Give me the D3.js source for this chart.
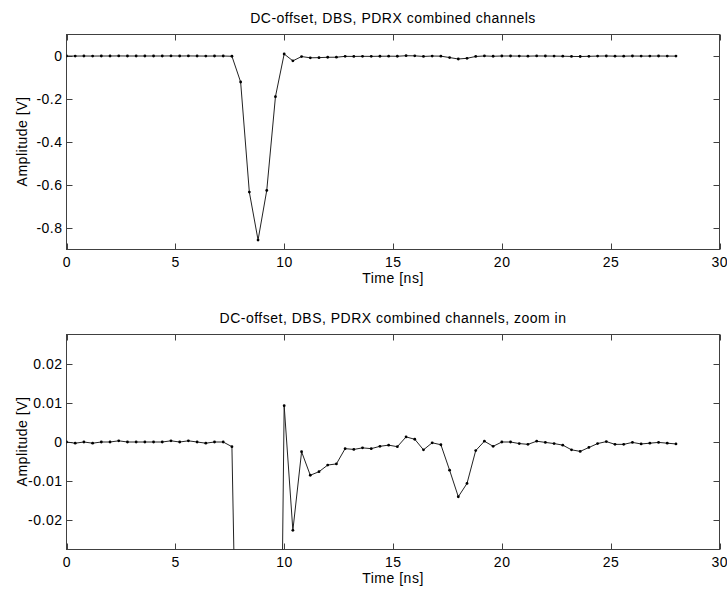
<!DOCTYPE html>
<html>
<head>
<meta charset="utf-8">
<script src="https://cdn.jsdelivr.net/npm/d3@7"></script>
<style>
  body { margin: 0; background: #fff; }
  svg text { font-family: "Liberation Sans", Arial, sans-serif; fill: #000; letter-spacing: 0.5px; }
</style>
</head>
<body>
<div id="chart"></div>
<script>
// time samples, 0.4 ns apart
const times = d3.range(71).map(i => +(i * 0.4).toFixed(1));

// amplitude [V] per sample
const amplitude = [
  0, -0.0003, 0, -0.0003, 0, 0, 0.0003, 0, 0, 0,
  0, 0, 0.0003, 0, 0.0003, 0, -0.0003, 0, 0, -0.0012,
  -0.121, -0.633, -0.856, -0.625, -0.189, 0.0093, -0.0226, -0.0025, -0.0085, -0.0076,
  -0.0059, -0.0056, -0.0017, -0.0019, -0.0015, -0.0017, -0.0011, -0.0008, -0.0012, 0.0013,
  0.0007, -0.002, -0.0002, -0.0007, -0.0072, -0.014, -0.0106, -0.0022, 0.0002, -0.0011,
  0, 0, -0.0004, -0.0006, 0.0002, -0.0001, -0.0004, -0.0008, -0.002, -0.0024,
  -0.0014, -0.0004, 0.0001, -0.0006, -0.0006, -0.0001, -0.0005, -0.0003, -0.0001, -0.0003,
  -0.0005
];

const xTicks = [0, 5, 10, 15, 20, 25, 30];
const topYTicks = [0, -0.2, -0.4, -0.6, -0.8];
const zoomYTicks = [0.02, 0.01, 0, -0.01, -0.02];

const data = times.map((t, i) => ({ t, v: amplitude[i] }));

const W = 727, H = 593;
const svg = d3.select('#chart').append('svg').attr('width', W).attr('height', H);

const panels = [
  { title: 'DC-offset, DBS, PDRX combined channels', top: 34, bottom: 249, domain: [-0.9, 0.1], ticks: topYTicks, id: 'c1' },
  { title: 'DC-offset, DBS, PDRX combined channels, zoom in', top: 334, bottom: 549, domain: [-0.0275, 0.0275], ticks: zoomYTicks, id: 'c2' }
];

const left = 66.5, right = 719.5;
const x = d3.scaleLinear().domain([0, 30]).range([left, right]);
const fmt = v => (v === 0 ? '0' : String(v));
const fs = 14;

panels.forEach(p => {
  const y = d3.scaleLinear().domain(p.domain).range([p.bottom + 0.5, p.top + 0.5]);
  const g = svg.append('g');

  g.append('defs').append('clipPath').attr('id', p.id)
    .append('rect').attr('x', left).attr('y', p.top + 0.5)
    .attr('width', right - left).attr('height', p.bottom - p.top);

  // axes with inward ticks on all four sides
  const tick = 6;
  const ax = g.append('g').attr('stroke', '#404040').attr('stroke-width', 1);
  ax.append('rect').attr('x', left).attr('y', p.top + 0.5)
    .attr('width', right - left).attr('height', p.bottom - p.top).attr('fill', 'none');
  xTicks.forEach(t => {
    const px = Math.round(x(t)) + 0.5;
    ax.append('line').attr('x1', px).attr('x2', px).attr('y1', p.bottom + 0.5).attr('y2', p.bottom + 0.5 - tick);
    ax.append('line').attr('x1', px).attr('x2', px).attr('y1', p.top + 0.5).attr('y2', p.top + 0.5 + tick);
  });
  p.ticks.forEach(t => {
    const py = Math.round(y(t)) + 0.5;
    ax.append('line').attr('x1', left).attr('x2', left + tick).attr('y1', py).attr('y2', py);
    ax.append('line').attr('x1', right).attr('x2', right - tick).attr('y1', py).attr('y2', py);
  });

  g.selectAll('.xt').data(xTicks).join('text')
    .attr('x', d => x(d) + 0.3).attr('y', p.bottom + 18)
    .attr('text-anchor', 'middle').attr('font-size', fs).text(d => d);
  g.selectAll('.yt').data(p.ticks).join('text')
    .attr('x', left - 4).attr('y', d => y(d) + 5)
    .attr('text-anchor', 'end').attr('font-size', fs).text(fmt);

  g.append('text').attr('x', (left + right) / 2).attr('y', p.top - 11)
    .attr('text-anchor', 'middle').attr('font-size', fs).text(p.title);
  g.append('text').attr('x', (left + right) / 2).attr('y', p.bottom + 34)
    .attr('text-anchor', 'middle').attr('font-size', fs).text('Time [ns]');
  g.append('text').attr('transform', `translate(27,${(p.top + p.bottom) / 2}) rotate(-90)`)
    .attr('text-anchor', 'middle').attr('font-size', fs).text('Amplitude [V]');

  const plot = g.append('g').attr('clip-path', `url(#${p.id})`);
  const line = d3.line().x(d => x(d.t)).y(d => y(d.v));
  plot.append('path').datum(data).attr('d', line)
    .attr('fill', 'none').attr('stroke', '#222').attr('stroke-width', 1);
  plot.selectAll('circle').data(data).join('circle')
    .attr('cx', d => x(d.t)).attr('cy', d => y(d.v)).attr('r', 1.4).attr('fill', '#000');
});
</script>
</body>
</html>
